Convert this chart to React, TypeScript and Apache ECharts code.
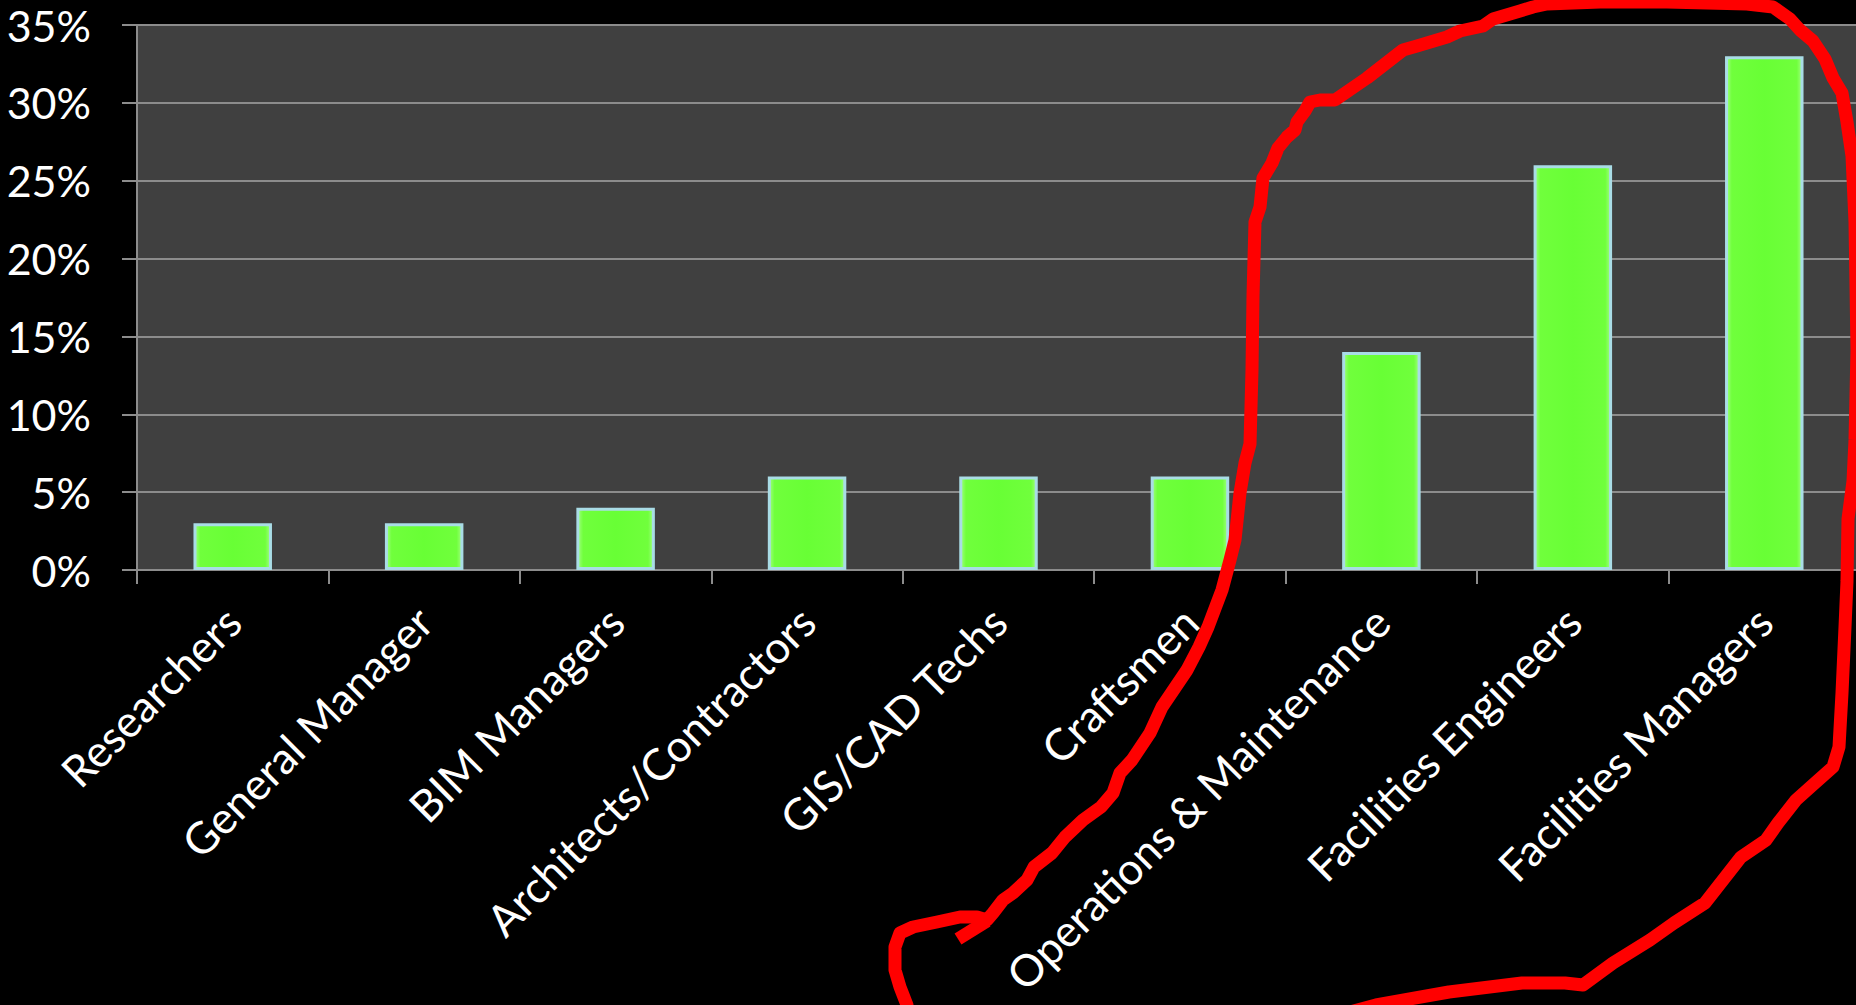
import React, { useEffect, useRef } from "react";
import * as echarts from "echarts";

const categories = [
  "Researchers",
  "General Manager",
  "BIM Managers",
  "Architects/Contractors",
  "GIS/CAD Techs",
  "Craftsmen",
  "Operations & Maintenance",
  "Facilities Engineers",
  "Facilities Managers",
];
const values = [3, 3, 4, 6, 6, 6, 14, 26, 33];
const yTicks = { min: 0, max: 35, interval: 5 };

// hand-drawn red annotation loop (screen coordinates)
const loopPoints: [number, number][] = [
  [907, 1005], [900, 987], [895, 970], [895, 947], [900, 933], [913, 927], [937, 922],
  [960, 917], [977, 917], [987, 920], [993, 913], [1003, 900], [1013, 893], [1027, 880],
  [1034, 867], [1052, 853], [1065, 837], [1083, 820], [1101, 807], [1113, 793],
  [1120, 773], [1132, 760], [1150, 733], [1162, 707], [1187, 670], [1199, 647],
  [1208, 627], [1222, 590], [1230, 560], [1235, 540], [1240, 493], [1245, 463],
  [1250, 444], [1252, 370], [1253, 296], [1255, 222], [1260, 207], [1263, 178],
  [1272, 163], [1278, 148], [1287, 137], [1295, 130], [1297, 122], [1305, 111],
  [1310, 102], [1320, 100], [1335, 100], [1367, 78], [1403, 50], [1417, 46],
  [1447, 37], [1460, 31], [1483, 26], [1493, 19], [1520, 11], [1533, 7], [1547, 4],
  [1600, 2], [1667, 2], [1747, 4], [1773, 7], [1790, 19], [1800, 30], [1813, 41],
  [1825, 59], [1833, 78], [1842, 93], [1847, 122], [1852, 156], [1855, 222],
  [1857, 350], [1855, 440], [1853, 481], [1848, 519], [1847, 581], [1845, 627],
  [1842, 693], [1839, 747], [1833, 767], [1815, 783], [1796, 800], [1778, 823],
  [1766, 840], [1741, 857], [1723, 880], [1705, 903], [1674, 923], [1650, 940],
  [1613, 963], [1583, 985], [1565, 983], [1522, 983], [1449, 992], [1376, 1005],
  [1350, 1012],
];
const tailPoints: [number, number][] = [[987, 921], [958, 939]];

const FONT = "Lato, 'Open Sans', sans-serif";

export default function App() {
  const ref = useRef<HTMLDivElement>(null);
  useEffect(() => {
    document.body.style.margin = "0";
    document.body.style.background = "#000";
    const chart = echarts.init(ref.current!, null, { renderer: "svg" });
    const gray = "#8C8C8C";
    chart.setOption({
      animation: false,
      backgroundColor: "#000000",
      grid: {
        show: true,
        left: 137,
        top: 25,
        right: -4,
        bottom: 435,
        backgroundColor: "#404040",
        borderWidth: 0,
        containLabel: false,
        outerBoundsMode: "none",
      },
      xAxis: {
        type: "category",
        data: categories,
        axisLine: { show: true, lineStyle: { color: gray, width: 2 } },
        axisTick: { show: true, length: 14, lineStyle: { color: gray, width: 2 } },
        axisLabel: {
          rotate: 45,
          interval: 0,
          margin: 44,
          color: "#FFFFFF",
          fontSize: 44,
          fontFamily: FONT,
        },
        splitLine: { show: false },
      },
      yAxis: {
        type: "value",
        min: yTicks.min,
        max: yTicks.max,
        interval: yTicks.interval,
        axisLine: { show: true, lineStyle: { color: gray, width: 2 } },
        axisTick: { show: true, length: 15, lineStyle: { color: gray, width: 2 } },
        axisLabel: {
          formatter: "{value}%",
          margin: 46,
          color: "#FFFFFF",
          fontSize: 43,
          fontFamily: FONT,
        },
        splitLine: { show: true, lineStyle: { color: gray, width: 2 } },
      },
      series: [
        {
          type: "bar",
          data: values,
          barWidth: "41%",
          itemStyle: {
            color: new echarts.graphic.LinearGradient(0, 0, 1, 0, [
              { offset: 0, color: "#A0FF80" },
              { offset: 0.07, color: "#70FF3C" },
              { offset: 0.5, color: "#68FF35" },
              { offset: 0.93, color: "#70FF3C" },
              { offset: 1, color: "#A0FF80" },
            ]),
            borderColor: "#A9DCE6",
            borderWidth: 3,
          },
        },
      ],
      graphic: [
        {
          type: "polyline",
          z: 100,
          shape: { points: loopPoints },
          style: { stroke: "#FF0000", lineWidth: 13, fill: null, lineJoin: "round", lineCap: "round" },
        },
        {
          type: "polyline",
          z: 100,
          shape: { points: tailPoints },
          style: { stroke: "#FF0000", lineWidth: 13, fill: null, lineJoin: "round", lineCap: "butt" },
        },
      ],
    });
    return () => chart.dispose();
  }, []);
  return <div ref={ref} style={{ width: 1856, height: 1005, background: "#000" }} />;
}
